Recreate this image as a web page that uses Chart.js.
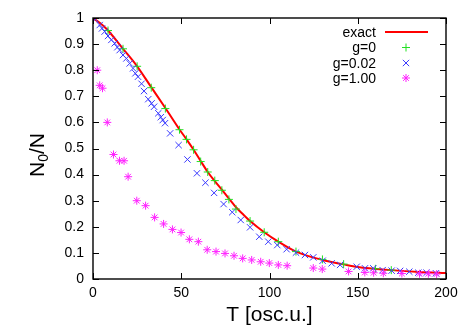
<!DOCTYPE html>
<html lang="en">
<head>
    <meta charset="UTF-8">
    <title>N0/N vs T</title>
    <script src="https://cdn.jsdelivr.net/npm/chart.js"></script>
    <style>
        body {
            margin: 0;
            background-color: #fff;
        }
        #chart {
            display: block;
        }
    </style>
</head>
<body>
    <canvas id="chart" width="469" height="328"></canvas>

    <script>
        // Tick labels
        const xTicks = [0, 50, 100, 150, 200];
        const yTicks = [0, 0.1, 0.2, 0.3, 0.4, 0.5, 0.6, 0.7, 0.8, 0.9, 1];

        // exact curve
        const exactT = [0, 5, 8.5, 17, 25, 33, 41, 49, 53, 57, 61, 65, 69, 73, 77, 81, 85, 89, 97, 105, 115, 130, 142, 150, 169, 185, 200];
        const exactN = [1.0, 0.975, 0.952, 0.882, 0.815, 0.735, 0.655, 0.573, 0.535, 0.495, 0.452, 0.41, 0.375, 0.342, 0.308, 0.275, 0.248, 0.222, 0.179, 0.143, 0.105, 0.073, 0.056, 0.046, 0.034, 0.027, 0.023];

        // g=0
        const g0T = [8.5, 17, 25, 33, 41, 49, 53, 57, 61, 65, 69, 73, 77, 81, 89, 97, 105, 115, 130, 142, 160, 169];
        const g0N = [0.952, 0.882, 0.815, 0.733, 0.653, 0.572, 0.535, 0.495, 0.45, 0.41, 0.377, 0.34, 0.305, 0.268, 0.222, 0.179, 0.143, 0.105, 0.075, 0.057, 0.039, 0.034];

        // g=0.02
        const g002T = [1.3, 3.8, 5.1, 6.6, 8.5, 10.4, 12.3, 13.8, 15.1, 17, 18.9, 20.8, 22.7, 24, 25.5, 27.5, 28.9, 31.3, 33.2, 34.6, 37, 38.4, 39.5, 40.8, 43.7, 48.5, 53.5, 58.9, 63.7, 68.6, 74, 78.9, 83.7, 89, 94.2, 99.3, 104.4, 109.7, 115, 120.1, 124.8, 130.1, 135.2, 140, 149.4, 154.1, 158.8, 164.1, 169.2, 174, 179.2, 184.3, 189, 194.3];
        const g002N = [0.995, 0.973, 0.96, 0.948, 0.931, 0.916, 0.903, 0.888, 0.877, 0.858, 0.845, 0.826, 0.807, 0.788, 0.775, 0.748, 0.72, 0.689, 0.673, 0.66, 0.635, 0.62, 0.609, 0.597, 0.558, 0.513, 0.458, 0.405, 0.369, 0.33, 0.287, 0.256, 0.226, 0.198, 0.162, 0.143, 0.13, 0.114, 0.101, 0.092, 0.083, 0.07, 0.06, 0.054, 0.047, 0.041, 0.041, 0.034, 0.032, 0.031, 0.028, 0.024, 0.024, 0.022];

        // g=1.00
        const g1T = [2.4, 3.8, 5.4, 8.1, 11.6, 15, 17.6, 19.9, 24.8, 29.8, 34.9, 40, 45, 49.9, 54.6, 59.7, 64.7, 69.7, 74.8, 79.9, 84.8, 89.9, 95, 99.9, 105, 110, 124.8, 129.9, 144.8, 154, 159, 164.5, 175, 185, 190, 194.7];
        const g1N = [0.80, 0.742, 0.731, 0.60, 0.477, 0.453, 0.453, 0.392, 0.30, 0.281, 0.236, 0.211, 0.19, 0.178, 0.152, 0.143, 0.112, 0.105, 0.098, 0.089, 0.079, 0.073, 0.066, 0.061, 0.054, 0.051, 0.042, 0.038, 0.029, 0.025, 0.024, 0.022, 0.021, 0.02, 0.02, 0.019];

        const FONT = '"Liberation Sans", Arial, Helvetica, sans-serif';

        function toPoints(xs, ys) {
            return xs.map((x, i) => ({ x: x, y: ys[i] }));
        }

        // inward ticks on all four sides + full border box
        const frameAndTicks = {
            id: 'frameAndTicks',
            afterDatasetsDraw(chart) {
                const { ctx, chartArea: a, scales } = chart;
                ctx.save();
                ctx.strokeStyle = '#000';
                ctx.lineWidth = 1;
                ctx.beginPath();
                yTicks.forEach(v => {
                    const y = Math.round(scales.y.getPixelForValue(v)) + 0.5;
                    ctx.moveTo(a.left, y); ctx.lineTo(a.left + 6, y);
                    ctx.moveTo(a.right, y); ctx.lineTo(a.right - 6, y);
                });
                xTicks.forEach(v => {
                    const x = Math.round(scales.x.getPixelForValue(v)) + 0.5;
                    ctx.moveTo(x, a.bottom); ctx.lineTo(x, a.bottom - 6);
                    ctx.moveTo(x, a.top); ctx.lineTo(x, a.top + 6);
                });
                ctx.stroke();
                ctx.lineWidth = 1.4;
                ctx.strokeRect(a.left, a.top, a.right - a.left, a.bottom - a.top);
                ctx.restore();
            }
        };

        // y axis title with a subscript
        const yTitle = {
            id: 'yTitle',
            afterDraw(chart) {
                const ctx = chart.ctx;
                ctx.save();
                ctx.translate(44, 155);
                ctx.rotate(-Math.PI / 2);
                ctx.fillStyle = '#000';
                ctx.textBaseline = 'alphabetic';
                ctx.font = '21px ' + FONT;
                const wN = ctx.measureText('N').width;
                const wSlashN = ctx.measureText('/N').width;
                ctx.font = '14px ' + FONT;
                const w0 = ctx.measureText('0').width;
                let x = -(wN + w0 + wSlashN) / 2;
                ctx.font = '21px ' + FONT;
                ctx.fillText('N', x, 0);
                x += wN;
                ctx.font = '14px ' + FONT;
                ctx.fillText('0', x, 4);
                x += w0;
                ctx.font = '21px ' + FONT;
                ctx.fillText('/N', x, 0);
                ctx.restore();
            }
        };

        // gnuplot style key: text right aligned, sample to the right
        const keyBox = {
            id: 'keyBox',
            afterDraw(chart) {
                const ctx = chart.ctx;
                const rows = [32, 47.5, 63, 78];
                ctx.save();
                ctx.font = '14px ' + FONT;
                ctx.textAlign = 'right';
                ctx.textBaseline = 'middle';
                chart.data.datasets.forEach((ds, i) => {
                    const y = rows[i];
                    ctx.fillStyle = '#000';
                    ctx.fillText(ds.label, 376, y + 1);
                    if (ds.showLine) {
                        ctx.strokeStyle = ds.borderColor;
                        ctx.lineWidth = ds.borderWidth;
                        ctx.beginPath();
                        ctx.moveTo(385, y); ctx.lineTo(428, y);
                        ctx.stroke();
                    } else {
                        ctx.strokeStyle = ds.borderColor;
                        ctx.fillStyle = ds.borderColor;
                        ctx.lineWidth = ds.pointBorderWidth;
                        Chart.helpers.drawPoint(ctx, {
                            pointStyle: ds.pointStyle,
                            radius: ds.pointRadius,
                            borderWidth: ds.pointBorderWidth,
                            rotation: 0
                        }, 406, y);
                    }
                });
                ctx.restore();
            }
        };

        new Chart(document.getElementById('chart'), {
            type: 'scatter',
            data: {
                datasets: [
                    {
                        label: 'exact',
                        type: 'line',
                        data: toPoints(exactT, exactN),
                        showLine: true,
                        borderColor: '#ff0000',
                        borderWidth: 2,
                        pointRadius: 0,
                        tension: 0.4,
                        cubicInterpolationMode: 'monotone',
                        fill: false,
                        order: 4
                    },
                    {
                        label: 'g=0',
                        data: toPoints(g0T, g0N),
                        pointStyle: 'cross',
                        pointRadius: 4,
                        pointBorderWidth: 1,
                        borderColor: '#22e022',
                        backgroundColor: '#22e022',
                        order: 3
                    },
                    {
                        label: 'g=0.02',
                        data: toPoints(g002T, g002N),
                        pointStyle: 'crossRot',
                        pointRadius: 4.5,
                        pointBorderWidth: 1,
                        borderColor: '#3a3aff',
                        backgroundColor: '#3a3aff',
                        order: 2
                    },
                    {
                        label: 'g=1.00',
                        data: toPoints(g1T, g1N),
                        pointStyle: 'star',
                        pointRadius: 4,
                        pointBorderWidth: 1,
                        borderColor: '#ff22ff',
                        backgroundColor: '#ff22ff',
                        order: 1
                    }
                ]
            },
            options: {
                responsive: false,
                animation: false,
                layout: { padding: { top: 18, right: 23, left: 0, bottom: 0 } },
                plugins: {
                    legend: { display: false },
                    tooltip: { enabled: false }
                },
                scales: {
                    x: {
                        type: 'linear',
                        min: 0,
                        max: 200,
                        afterBuildTicks: s => { s.ticks = xTicks.map(v => ({ value: v })); },
                        afterFit: s => { s.height = 49; },
                        ticks: {
                            padding: 6,
                            color: '#000',
                            font: { family: FONT, size: 14 },
                            maxRotation: 0
                        },
                        grid: { display: false, drawTicks: false },
                        border: { display: false },
                        title: {
                            display: true,
                            text: 'T [osc.u.]',
                            color: '#000',
                            font: { family: FONT, size: 21 },
                            padding: 0
                        }
                    },
                    y: {
                        min: 0,
                        max: 1,
                        afterBuildTicks: s => { s.ticks = yTicks.map(v => ({ value: v })); },
                        afterFit: s => { s.width = 93; },
                        ticks: {
                            padding: 9,
                            color: '#000',
                            font: { family: FONT, size: 14 },
                            callback: v => String(v)
                        },
                        grid: { display: false, drawTicks: false },
                        border: { display: false }
                    }
                }
            },
            plugins: [frameAndTicks, yTitle, keyBox]
        });
    </script>
</body>
</html>
